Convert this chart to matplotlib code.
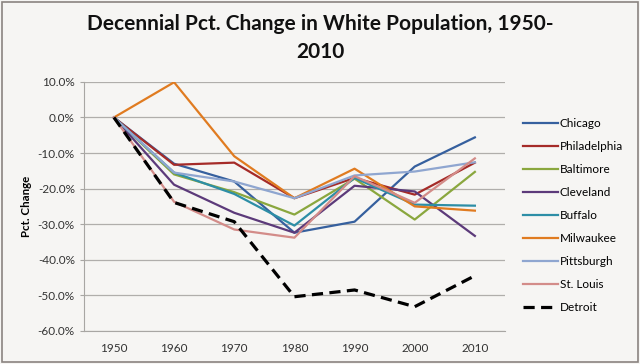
import matplotlib.pyplot as plt
from matplotlib.ticker import FuncFormatter

# decade and the percent change per city
years = [1950, 1960, 1970, 1980, 1990, 2000, 2010]

chicago = [0, -13.0, -18.0, -32.4, -29.3, -13.8, -5.6]
philadelphia = [0, -13.3, -12.7, -22.7, -17.0, -21.7, -12.7]
baltimore = [0, -16.0, -21.0, -27.3, -17.2, -28.7, -15.3]
cleveland = [0, -18.9, -26.8, -32.4, -19.2, -20.8, -33.3]
buffalo = [0, -15.5, -21.5, -30.4, -17.0, -24.5, -24.8]
milwaukee = [0, 9.9, -10.9, -22.7, -14.4, -25.0, -26.2]
pittsburgh = [0, -15.5, -18.0, -22.7, -16.3, -15.2, -12.6]
st_louis = [0, -23.7, -31.5, -33.8, -16.5, -24.0, -11.5]
detroit = [0, -23.9, -29.3, -50.4, -48.5, -53.2, -44.5]

cities = ["Chicago", "Philadelphia", "Baltimore", "Cleveland", "Buffalo",
          "Milwaukee", "Pittsburgh", "St. Louis", "Detroit"]
series = [chicago, philadelphia, baltimore, cleveland, buffalo,
          milwaukee, pittsburgh, st_louis, detroit]
colors = ["#36609e", "#a52b28", "#8aa73e", "#5c3a7a", "#2d8ea6",
          "#e07b20", "#8fa6d0", "#d38c89", "#000000"]

bg = "#f6f5f3"
plt.rcParams['font.family'] = ['Lato', 'DejaVu Sans']

fig = plt.figure(figsize=(6.4, 3.64), dpi=100, facecolor=bg)
ax = fig.add_axes([0.131, 0.091, 0.658, 0.684])
ax.set_facecolor(bg)

pos = list(range(len(years)))
for name, vals, c in zip(cities, series, colors):
    if name == "Detroit":
        ax.plot(pos, vals, color=c, lw=2.3, dashes=(3.5, 2.0), label=name)
    else:
        ax.plot(pos, vals, color=c, lw=1.6, label=name)

ax.set_ylim(-60, 10)
ax.set_yticks(range(-60, 11, 10))
ax.yaxis.set_major_formatter(FuncFormatter(lambda v, p: "%.1f%%" % v))
ax.set_xlim(-0.5, len(years) - 0.5)
ax.set_xticks(pos)
ax.set_xticklabels([str(y) for y in years])
ax.grid(axis='y', color='#b0aeab', lw=0.9)
ax.set_axisbelow(True)
for s in ['top', 'right']:
    ax.spines[s].set_visible(False)
ax.spines['left'].set_color('#a8a6a3')
ax.spines['bottom'].set_color('#a8a6a3')
ax.tick_params(axis='both', labelsize=8.5, colors='#a8a6a3', labelcolor='#333333', length=3)
ax.tick_params(axis='x', length=0, pad=9)

ax.set_ylabel("Pct. Change", fontsize=8.3, fontweight='bold', labelpad=4)

fig.text(0.5, 0.895, "Decennial Pct. Change in White Population, 1950-\n2010",
         ha='center', va='center', fontsize=15, fontweight='bold',
         linespacing=1.5, color='#111111')

fig.legend(loc='upper left', bbox_to_anchor=(0.8, 0.705), frameon=False,
           fontsize=8.5, handlelength=3.0, handletextpad=0.15, labelspacing=1.02)

# outer border
fig.patches.append(plt.Rectangle((0.003, 0.005), 0.994, 0.99, transform=fig.transFigure,
                                 fill=False, edgecolor='#8a8480', lw=1.2))

fig.savefig("out.png", dpi=100, facecolor=bg)
